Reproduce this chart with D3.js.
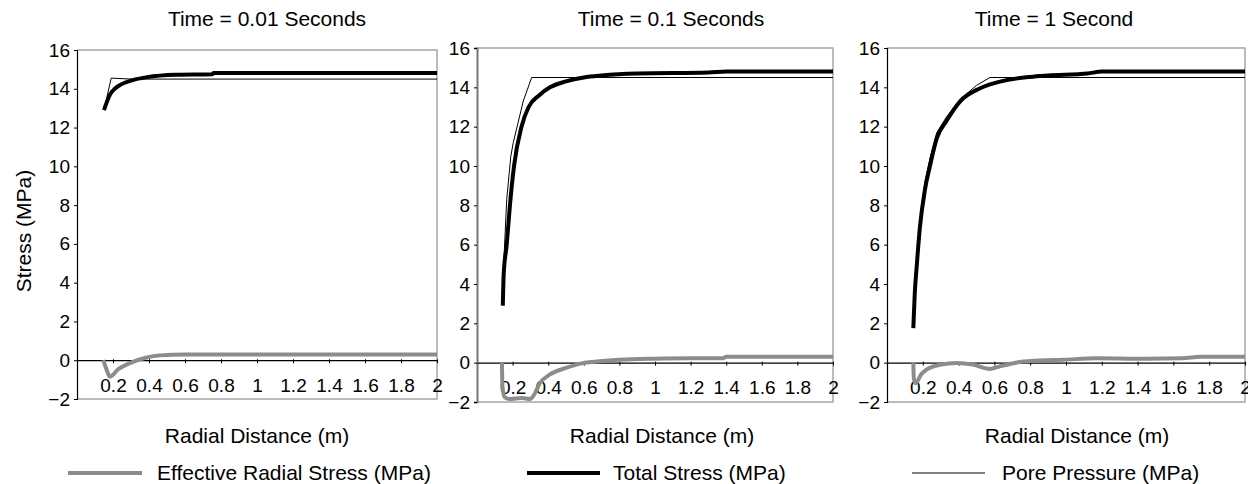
<!DOCTYPE html>
<html>
<head>
<meta charset="utf-8">
<script src="https://cdn.jsdelivr.net/npm/d3@7"></script>
<style>
  body { margin: 0; background: #fff; }
  svg { font-family: "Liberation Sans", Arial, sans-serif; }
</style>
</head>
<body>
<svg width="1248" height="484"></svg>
<script>
// chart data (x = radial distance m, y = stress MPa)
const titles = ["Time = 0.01 Seconds", "Time = 0.1 Seconds", "Time = 1 Second"];
const xTicks = [0.2, 0.4, 0.6, 0.8, 1, 1.2, 1.4, 1.6, 1.8, 2];
const yTicks = [-2, 0, 2, 4, 6, 8, 10, 12, 14, 16];
const seriesNames = ["Effective Radial Stress (MPa)", "Total Stress (MPa)", "Pore Pressure (MPa)"];

const total1 = [[0.15,12.9],[0.165,13.3],[0.183,13.7],[0.21,14.0],[0.24,14.2],[0.31,14.45],[0.39,14.6],[0.55,14.72],[0.75,14.75],[0.76,14.82],[2,14.82]];
const pore1 = [[0.15,12.9],[0.19,14.55],[0.3,14.5],[2,14.5]];
const eff1 = [[0.146,0],[0.165,-0.5],[0.183,-0.85],[0.23,-0.46],[0.294,-0.15],[0.387,0.14],[0.46,0.25],[0.6,0.3],[2,0.3]];

const total2 = [[0.145,2.9],[0.15,4.5],[0.167,6.0],[0.185,8.0],[0.208,10.0],[0.25,12.0],[0.29,13.0],[0.35,13.6],[0.41,14.0],[0.5,14.3],[0.6,14.5],[0.7,14.6],[0.9,14.7],[1.3,14.75],[1.4,14.8],[2,14.8]];
const pore2 = [[0.145,2.9],[0.15,5.0],[0.167,8.3],[0.19,10.5],[0.204,11.2],[0.26,13.3],[0.307,14.5],[2,14.5]];
const eff2 = [[0.14,0],[0.143,-1.2],[0.155,-1.75],[0.185,-1.85],[0.25,-1.8],[0.3,-1.85],[0.316,-1.7],[0.354,-1.03],[0.41,-0.6],[0.5,-0.27],[0.58,-0.05],[0.66,0.05],[0.8,0.15],[1.0,0.2],[1.2,0.22],[1.38,0.22],[1.4,0.3],[2,0.3]];

const total3 = [[0.147,1.76],[0.155,3.5],[0.166,4.9],[0.184,6.9],[0.212,8.8],[0.24,10.0],[0.278,11.4],[0.333,12.3],[0.41,13.3],[0.52,13.95],[0.65,14.33],[0.8,14.53],[0.9,14.6],[1.12,14.7],[1.2,14.8],[2,14.8]];
const pore3 = [[0.147,1.76],[0.155,3.8],[0.166,5.3],[0.184,7.3],[0.212,9.2],[0.24,10.4],[0.278,11.7],[0.333,12.5],[0.41,13.4],[0.5,14.1],[0.575,14.5],[2,14.5]];
const eff3 = [[0.147,0],[0.15,-0.8],[0.16,-1.05],[0.19,-0.6],[0.22,-0.36],[0.3,-0.1],[0.39,-0.02],[0.48,-0.1],[0.575,-0.32],[0.63,-0.19],[0.72,0],[0.83,0.1],[0.985,0.15],[1.17,0.22],[1.4,0.2],[1.65,0.22],[1.75,0.3],[2,0.3]];

// layout of the three panels
const panels = [
  { left: 77, right: 437, top: 50, bottom: 399, titleX: 267, xTitleX: 257, axisColor: "#000", eff: eff1, total: total1, pore: pore1 },
  { left: 477, right: 833, top: 48, bottom: 402, titleX: 671, xTitleX: 662, axisColor: "#777", eff: eff2, total: total2, pore: pore2 },
  { left: 887, right: 1245, top: 48, bottom: 402, titleX: 1054, xTitleX: 1077, axisColor: "#000", eff: eff3, total: total3, pore: pore3 }
];
const legendPos = [
  { x1: 68, x2: 142, tx: 157 },
  { x1: 527, x2: 600, tx: 613 },
  { x1: 912, x2: 985, tx: 1002 }
];
const styles = [
  { stroke: "#8c8c8c", width: 4 },
  { stroke: "#000", width: 4 },
  { stroke: "#000", width: 1 }
];

const svg = d3.select("svg");
const fmt = d3.format("~g");

panels.forEach(function(p, i) {
  const x = d3.scaleLinear().domain([0, 2]).range([p.left, p.right]);
  const y = d3.scaleLinear().domain([-2, 16]).range([p.bottom, p.top]);
  const g = svg.append("g");

  // frame (grey top, right, bottom)
  g.append("path")
    .attr("d", "M" + p.left + "," + p.top + "H" + p.right + "V" + p.bottom + "H" + p.left)
    .attr("fill", "none").attr("stroke", "#a6a6a6").attr("stroke-width", 1.5);

  // y axis
  const yAxis = g.append("g")
    .attr("transform", "translate(" + p.left + ",0)")
    .call(d3.axisLeft(y).tickValues(yTicks).tickFormat(fmt).tickSize(3).tickPadding(4));
  yAxis.select(".domain").attr("stroke", p.axisColor).attr("stroke-width", i === 1 ? 2 : 1.2);
  yAxis.selectAll("text").attr("font-size", 19).attr("fill", "#000")
    .attr("font-family", "Liberation Sans, Arial, sans-serif");

  // x axis on y = 0
  const xAxis = g.append("g")
    .attr("transform", "translate(0," + y(0) + ")")
    .call(d3.axisBottom(x).tickValues(xTicks).tickFormat(fmt).tickSizeInner(3).tickSizeOuter(0).tickPadding(15));
  xAxis.select(".domain").attr("stroke", "#000").attr("stroke-width", 1.2);
  xAxis.selectAll(".tick line").attr("y1", -1).attr("y2", 3);
  xAxis.selectAll("text").attr("font-size", 19).attr("fill", "#000")
    .attr("font-family", "Liberation Sans, Arial, sans-serif");

  const line = d3.line().x(d => x(d[0])).y(d => y(d[1]));
  const smooth = d3.line().x(d => x(d[0])).y(d => y(d[1])).curve(d3.curveMonotoneX);

  g.append("path").datum(p.eff).attr("d", smooth)
    .attr("fill", "none").attr("stroke", styles[0].stroke).attr("stroke-width", styles[0].width);
  g.append("path").datum(p.total).attr("d", smooth)
    .attr("fill", "none").attr("stroke", styles[1].stroke).attr("stroke-width", styles[1].width);
  g.append("path").datum(p.pore).attr("d", line)
    .attr("fill", "none").attr("stroke", styles[2].stroke).attr("stroke-width", styles[2].width);

  // titles
  svg.append("text").attr("x", p.titleX).attr("y", 26).attr("text-anchor", "middle")
    .attr("font-size", 21).text(titles[i]);
  svg.append("text").attr("x", p.xTitleX).attr("y", 443).attr("text-anchor", "middle")
    .attr("font-size", 21).text("Radial Distance (m)");

  // legend entry
  const lg = legendPos[i];
  svg.append("line").attr("x1", lg.x1).attr("x2", lg.x2).attr("y1", 473).attr("y2", 473)
    .attr("stroke", styles[i].stroke).attr("stroke-width", styles[i].width);
  svg.append("text").attr("x", lg.tx).attr("y", 480).attr("font-size", 21).text(seriesNames[i]);
});

svg.append("text")
  .attr("transform", "translate(31,231) rotate(-90)")
  .attr("text-anchor", "middle").attr("font-size", 21)
  .text("Stress (MPa)");
</script>
</body>
</html>
